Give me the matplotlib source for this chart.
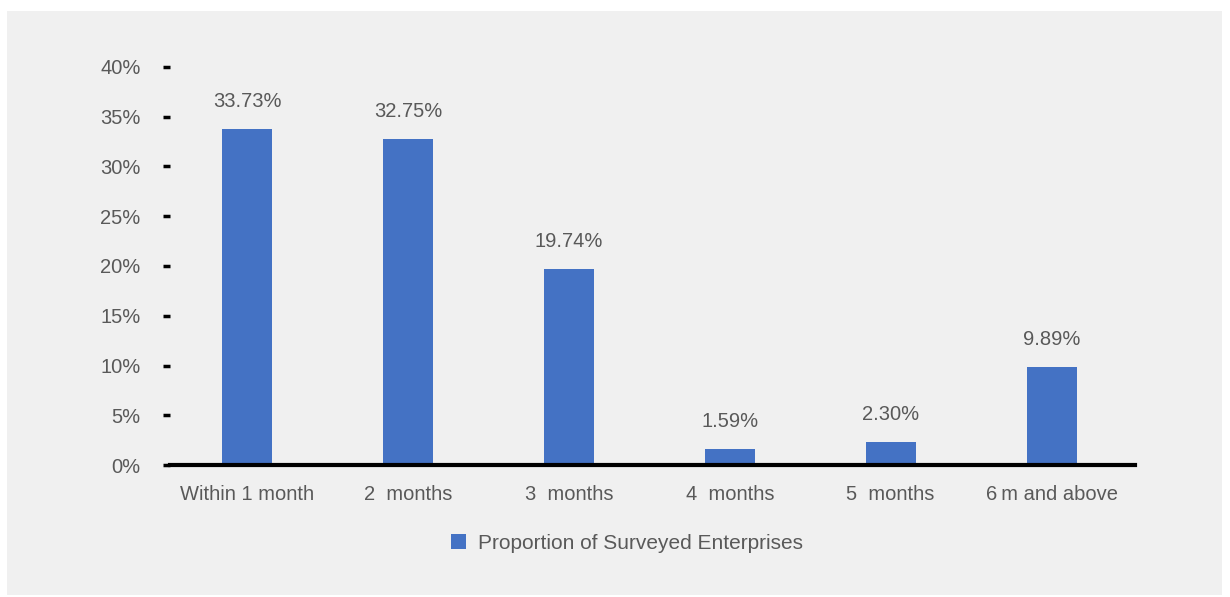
import matplotlib.pyplot as plt
from matplotlib.patches import Rectangle

plt.rcParams['font.family'] = ['Liberation Sans', 'DejaVu Sans']

# data
categories = ['Within 1 month', '2  months', '3  months', '4  months', '5  months', '6\u2009m and above']
values = [33.73, 32.75, 19.74, 1.59, 2.30, 9.89]
yticks = [0, 5, 10, 15, 20, 25, 30, 35, 40]
series_name = 'Proportion of Surveyed Enterprises'

fig = plt.figure(figsize=(12.3, 5.97), dpi=100)
fig.patch.set_facecolor('white')
fig.patches.append(Rectangle((0.0057, 0.0034), 0.988, 0.978, transform=fig.transFigure,
                             facecolor='#f0f0f0', edgecolor='none', zorder=-10))

ax = fig.add_axes([0.138, 0.221, 0.785, 0.667])
ax.set_facecolor('none')

x = range(len(categories))
bars = ax.bar(x, values, width=0.31, color='#4472c4', label=series_name, zorder=2)

for xi, v in zip(x, values):
    ax.text(xi, v + 1.8, f'{v:.2f}%', ha='center', va='bottom', fontsize=14.5, color='#595959')

ax.set_xlim(-0.48, 5.52)
ax.set_ylim(0, 40)
ax.set_yticks(yticks)
ax.set_yticklabels([f'{t}%' for t in yticks], fontsize=14.5, color='#595959')
ax.set_xticks(list(x))
ax.set_xticklabels(categories, fontsize=14.5, color='#595959')

for s in ['top', 'right', 'left']:
    ax.spines[s].set_visible(False)
ax.spines['bottom'].set_linewidth(3)
ax.spines['bottom'].set_color('black')
ax.spines['bottom'].set_zorder(3)

ax.tick_params(axis='y', length=5, width=2.5, color='black', pad=16, direction='out')
ax.tick_params(axis='x', length=0, pad=14)

fig.legend(handles=[bars], labels=[series_name], loc='center', bbox_to_anchor=(0.51, 0.09),
           frameon=False, fontsize=15, labelcolor='#595959', handlelength=0.7, handleheight=0.7,
           handletextpad=0.6)

fig.savefig('out.png', dpi=100)
